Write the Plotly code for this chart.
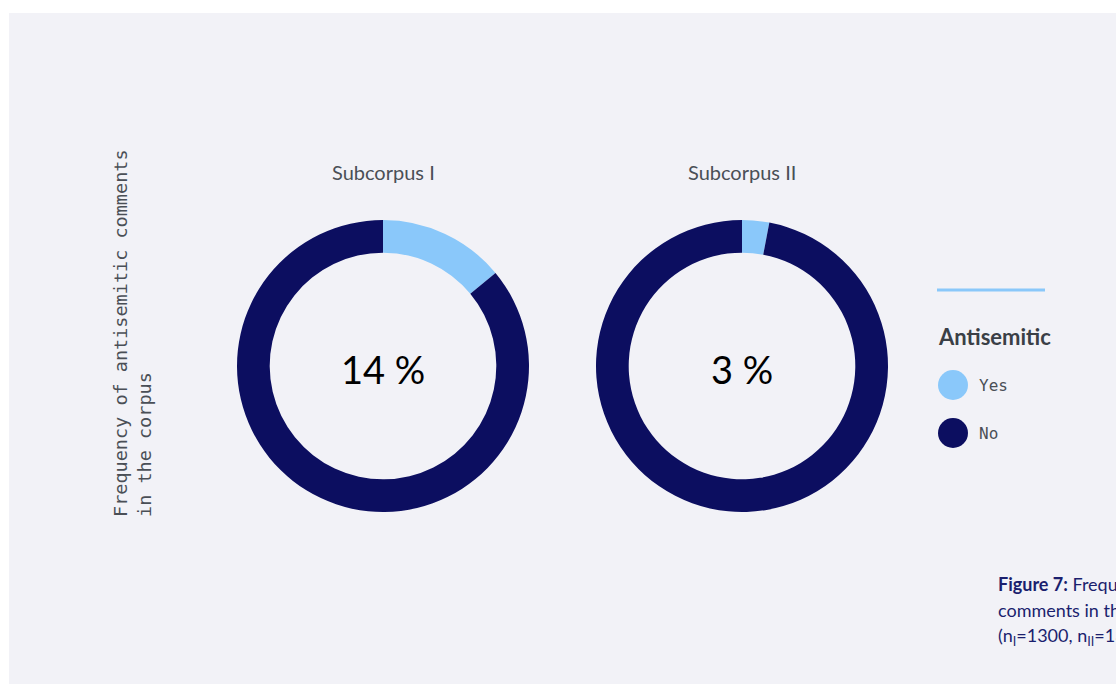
import plotly.graph_objects as go

W, H = 1116, 684

subcorpora = ["Subcorpus I", "Subcorpus II"]
categories = ["Yes", "No"]
yes_pct = [14, 3]
no_pct = [86, 97]
colors = ["#8AC8FA", "#0C0E60"]

legend_title = "Antisemitic"
axis_label = "Frequency of antisemitic comments<br>in the corpus"
caption_lines = [
    "<b>Figure 7:</b> Frequency of antisemitic",
    "comments in the corpus",
    "(n<sub>I</sub>=1300, n<sub>II</sub>=1300)",
]

def px_x(x):
    return x / W

def px_y(y):
    return 1 - y / H

centers_x = [383, 742]
center_y = 366
R = 146

fig = go.Figure()
for i, name in enumerate(subcorpora):
    cx = centers_x[i]
    fig.add_trace(go.Pie(
        labels=categories,
        values=[yes_pct[i], no_pct[i]],
        marker=dict(colors=colors, line=dict(width=0)),
        hole=0.776,
        sort=False,
        direction="clockwise",
        rotation=0,
        textinfo="none",
        hoverinfo="label+percent",
        showlegend=False,
        domain=dict(x=[px_x(cx - R), px_x(cx + R)],
                    y=[px_y(center_y + R), px_y(center_y - R)]),
        name=name,
    ))

annotations = []
title_font = "Lato, 'Open Sans', sans-serif"
mono_font = "'DejaVu Sans Mono', 'Liberation Mono', monospace"
for i, name in enumerate(subcorpora):
    cx = centers_x[i]
    annotations.append(dict(
        x=px_x(cx), y=px_y(172), xref="paper", yref="paper",
        text=name, showarrow=False, xanchor="center", yanchor="middle",
        font=dict(family=title_font, size=20, color="#4A4F56")))
    annotations.append(dict(
        x=px_x(cx), y=px_y(369), xref="paper", yref="paper",
        text=f"{yes_pct[i]} %", showarrow=False, xanchor="center", yanchor="middle",
        font=dict(family=title_font, size=38, color="#000000")))

annotations.append(dict(
    x=px_x(132), y=px_y(333), xref="paper", yref="paper",
    text=axis_label, showarrow=False, textangle=-90, align="left",
    xanchor="center", yanchor="middle",
    font=dict(family=mono_font, size=18.5, color="#4A4F56")))

annotations.append(dict(
    x=px_x(936), y=px_y(336), xref="paper", yref="paper",
    text=f"<b>{legend_title}</b>", showarrow=False, xanchor="left", yanchor="middle",
    font=dict(family=title_font, size=22, color="#3A3F46")))

leg_y = [385, 433]
for j, cat in enumerate(categories):
    annotations.append(dict(
        x=px_x(977), y=px_y(leg_y[j]), xref="paper", yref="paper",
        text=cat, showarrow=False, xanchor="left", yanchor="middle",
        font=dict(family=mono_font, size=16, color="#4A4F56")))

cap_y = [584, 610, 636]
for k, line in enumerate(caption_lines):
    annotations.append(dict(
        x=px_x(996), y=px_y(cap_y[k]), xref="paper", yref="paper",
        text=line, showarrow=False, xanchor="left", yanchor="middle", align="left",
        font=dict(family=title_font, size=18, color="#1B1F6E")))

shapes = [
    dict(type="rect", xref="paper", yref="paper",
         x0=px_x(9), x1=1.02, y0=px_y(684), y1=px_y(13),
         fillcolor="#F2F2F7", line=dict(width=0), layer="below"),
    dict(type="line", xref="paper", yref="paper",
         x0=px_x(937), x1=px_x(1045), y0=px_y(290), y1=px_y(290),
         line=dict(color=colors[0], width=3)),
]
for j, cat in enumerate(categories):
    shapes.append(dict(
        type="circle", xref="paper", yref="paper",
        x0=px_x(938), x1=px_x(968), y0=px_y(leg_y[j] + 15), y1=px_y(leg_y[j] - 15),
        fillcolor=colors[j], line=dict(width=0)))

fig.update_layout(
    width=W, height=H,
    margin=dict(l=0, r=0, t=0, b=0),
    paper_bgcolor="#FFFFFF",
    plot_bgcolor="#FFFFFF",
    annotations=annotations,
    shapes=shapes,
)

fig.write_html("out.html")
